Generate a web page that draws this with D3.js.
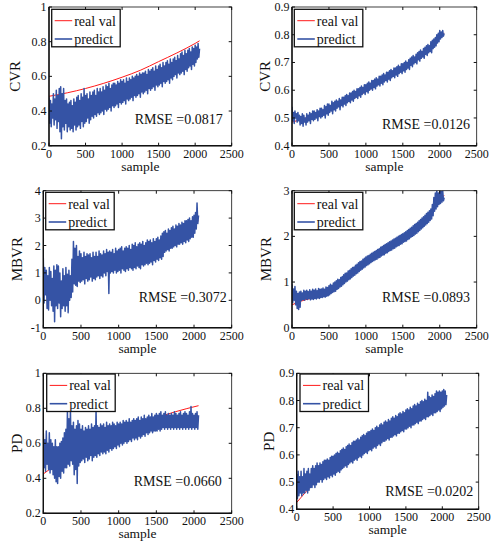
<!DOCTYPE html>
<html>
<head>
<meta charset="utf-8">
<script src="https://cdn.jsdelivr.net/npm/d3@7"></script>
<style>
  body { margin: 0; background: #fff; }
</style>
</head>
<body>
<div id="chart"></div>
<script>
var W = 493, H = 544;

// sample spacing of the predict series (one value every 10 samples)
var step = 10;

var xTicks = [0, 500, 1000, 1500, 2000, 2500];

// real values [sample, value]
var cvrReal = [[0,0.485],[250,0.505],[500,0.53],[750,0.56],[1000,0.595],[1250,0.635],[1500,0.685],[1750,0.735],[2000,0.79],[2060,0.805]];
var mbvrReal = [[0,0.5],[100,0.57],[250,0.64],[400,0.7],[500,0.78],[600,0.9],[750,1.1],[1000,1.43],[1250,1.7],[1500,1.95],[1750,2.3],[1900,2.6],[2000,2.8],[2060,2.9]];
var pdReal = [[0,0.425],[250,0.5],[500,0.56],[750,0.615],[1000,0.66],[1250,0.705],[1500,0.745],[1750,0.78],[2060,0.815]];

// predicted values (samples 0..2060)
var cvrPredLeft = [
  .48,.33,.46,.31,.44,.36,.50,.32,.47,.35,  .52,.30,.49,.34,.53,.28,.54,.24,.50,.31,
  .53,.29,.46,.33,.47,.28,.44,.31,.45,.29,  .46,.30,.43,.28,.47,.32,.45,.29,.48,.31,
  .49,.32,.46,.30,.50,.34,.48,.31,.53,.33,  .49,.34,.50,.36,.47,.33,.51,.35,.49,.37,
  .51,.36,.52,.38,.49,.37,.53,.39,.51,.38,  .53,.39,.51,.40,.54,.38,.52,.41,.55,.40,
  .54,.41,.56,.42,.53,.40,.55,.43,.56,.42,  .56,.43,.55,.44,.57,.42,.56,.45,.58,.44,
  .57,.45,.58,.46,.56,.44,.59,.47,.57,.46,  .59,.47,.58,.48,.60,.46,.59,.49,.60,.48,
  .61,.49,.60,.50,.62,.48,.61,.51,.62,.50,  .62,.51,.63,.52,.61,.50,.64,.53,.63,.52,
  .64,.53,.65,.54,.63,.52,.66,.55,.64,.54,  .66,.55,.67,.56,.65,.54,.68,.57,.66,.56,
  .68,.57,.69,.58,.67,.56,.70,.59,.68,.58,  .70,.60,.71,.61,.69,.59,.72,.62,.70,.61,
  .73,.62,.74,.63,.72,.61,.75,.64,.73,.63,  .75,.65,.76,.66,.74,.64,.77,.67,.76,.66,
  .78,.68,.77,.70,.79,.71,.76];
var cvrPredRight = [
  .54,.49,.52,.48,.525,.50,.515,.485,.52,.49,  .51,.475,.505,.48,.515,.47,.51,.485,.50,.475,
  .515,.485,.51,.49,.52,.48,.515,.495,.525,.49,  .525,.495,.52,.50,.53,.49,.525,.505,.535,.50,
  .535,.505,.53,.51,.545,.50,.54,.515,.55,.51,  .55,.52,.545,.525,.56,.515,.555,.53,.56,.525,
  .565,.535,.56,.54,.57,.53,.565,.545,.575,.54,  .575,.55,.58,.545,.585,.555,.58,.56,.59,.555,
  .59,.565,.595,.56,.60,.57,.595,.575,.605,.57,  .605,.58,.61,.575,.615,.585,.61,.59,.62,.585,
  .62,.595,.625,.59,.63,.60,.625,.605,.635,.60,  .635,.61,.64,.605,.645,.615,.64,.62,.65,.615,
  .65,.625,.655,.62,.66,.63,.655,.635,.665,.63,  .665,.64,.67,.635,.675,.645,.67,.65,.68,.645,
  .68,.655,.685,.65,.69,.66,.685,.665,.695,.66,  .695,.67,.70,.665,.705,.675,.70,.68,.71,.675,
  .715,.69,.72,.685,.725,.695,.72,.70,.73,.695,  .735,.71,.74,.705,.745,.715,.74,.72,.75,.715,
  .755,.73,.76,.725,.765,.735,.76,.74,.775,.735,  .78,.75,.785,.755,.79,.76,.80,.77,.805,.775,
  .815,.785,.81,.79,.815,.795,.805];
var mbvrPredLeft = [
  1.55,-0.1,1.2,0.2,1.1,-0.3,0.9,-0.35,1.2,0.0,  1.05,-0.2,0.8,-0.4,1.25,-0.78,1.1,-0.2,1.3,-0.3,
  1.25,-0.1,1.0,-0.6,0.7,-0.3,1.15,-0.2,0.9,-0.4,  1.2,-0.2,0.95,-0.45,1.1,0.0,0.9,0.1,1.5,0.3,
  2.15,0.6,1.9,0.55,2.0,0.5,1.6,0.7,1.8,0.65,  1.7,0.7,1.55,0.75,1.75,0.6,1.6,0.8,1.7,0.7,
  1.65,0.75,1.7,0.85,1.55,0.7,1.75,0.8,1.6,0.75,  1.75,0.85,1.6,0.9,1.8,0.8,1.7,0.9,1.65,0.85,
  1.8,1.0,1.7,0.9,1.85,1.05,1.75,0.25,1.8,1.0,  1.75,1.05,1.85,1.0,1.7,1.1,1.9,1.0,1.8,1.05,
  1.85,1.1,1.9,1.0,1.95,1.15,1.8,1.1,1.9,1.05,  1.95,1.15,1.9,1.1,2.0,1.2,1.85,1.15,2.05,1.1,
  2.0,1.2,2.1,1.15,1.95,1.25,2.05,1.2,2.1,1.15,  2.05,1.3,2.15,1.25,2.0,1.3,2.1,1.35,2.2,1.3,
  2.15,1.35,2.2,1.4,2.1,1.3,2.25,1.45,2.15,1.4,  2.25,1.5,2.3,1.45,2.2,1.55,2.35,1.5,2.45,1.6,
  2.5,1.75,2.55,1.8,2.45,1.85,2.6,1.8,2.55,1.9,  2.65,1.9,2.7,1.95,2.6,2.0,2.75,1.95,2.7,2.05,
  2.8,2.05,2.75,2.1,2.85,2.05,2.8,2.15,2.9,2.1,  2.9,2.2,2.95,2.15,3.0,2.25,2.9,2.3,3.05,2.3,
  3.1,2.45,3.2,2.6,3.55,2.8,3.1];
var mbvrPredRight = [
  0.95,0.55,0.85,0.6,0.9,0.5,0.8,0.42,0.75,0.4,  0.78,0.45,0.8,0.6,0.76,0.62,0.82,0.6,0.8,0.63,
  0.82,0.62,0.79,0.64,0.83,0.61,0.8,0.63,0.84,0.62,  0.82,0.64,0.85,0.63,0.81,0.65,0.86,0.64,0.84,0.66,
  0.85,0.66,0.87,0.68,0.84,0.67,0.89,0.69,0.88,0.7,  0.92,0.72,0.95,0.75,0.93,0.77,0.98,0.79,1.0,0.8,
  1.03,0.84,1.06,0.86,1.05,0.89,1.1,0.91,1.12,0.94,  1.16,0.97,1.19,1.0,1.2,1.02,1.24,1.05,1.26,1.07,
  1.29,1.1,1.32,1.13,1.33,1.15,1.37,1.18,1.39,1.2,  1.42,1.23,1.45,1.26,1.46,1.28,1.5,1.31,1.52,1.33,
  1.55,1.36,1.57,1.38,1.58,1.4,1.61,1.43,1.63,1.45,  1.65,1.47,1.67,1.49,1.69,1.5,1.71,1.53,1.73,1.54,
  1.76,1.57,1.78,1.59,1.8,1.6,1.82,1.63,1.84,1.64,  1.86,1.67,1.88,1.69,1.9,1.7,1.92,1.73,1.94,1.74,
  1.96,1.77,1.98,1.79,2.0,1.8,2.02,1.83,2.04,1.84,  2.06,1.87,2.08,1.89,2.1,1.9,2.13,1.93,2.15,1.95,
  2.18,1.98,2.2,2.0,2.23,2.02,2.26,2.05,2.28,2.07,  2.31,2.1,2.34,2.13,2.37,2.16,2.4,2.19,2.43,2.22,
  2.46,2.25,2.5,2.28,2.53,2.31,2.56,2.35,2.6,2.38,  2.7,2.45,2.85,2.55,2.95,2.6,3.0,2.65,2.95,2.7,
  3.0,2.72,2.98,2.75,3.0,2.78,2.85];
var pdPredLeft = [
  .66,.46,.62,.44,.67,.48,.60,.45,.66,.43,  .62,.45,.60,.42,.58,.40,.62,.38,.58,.37,
  .58,.41,.60,.40,.61,.44,.63,.43,.66,.46,  .68,.46,.78,.48,.74,.47,.79,.50,.70,.48,
  .72,.42,.68,.45,.70,.37,.73,.47,.71,.49,  .68,.50,.70,.51,.67,.49,.69,.52,.68,.50,
  .70,.51,.68,.53,.71,.50,.69,.52,.70,.53,  .79,.52,.70,.54,.69,.53,.71,.55,.70,.54,
  .71,.55,.69,.54,.72,.56,.70,.55,.71,.57,  .70,.56,.72,.57,.71,.58,.70,.57,.72,.59,
  .71,.58,.72,.60,.71,.59,.73,.60,.72,.61,  .73,.60,.72,.61,.74,.62,.72,.61,.73,.63,
  .74,.62,.73,.63,.74,.62,.75,.64,.73,.63,  .75,.64,.74,.65,.76,.64,.74,.66,.75,.65,
  .76,.66,.75,.67,.77,.66,.75,.67,.76,.67,  .77,.67,.76,.68,.77,.67,.78,.68,.76,.69,
  .77,.68,.78,.69,.76,.68,.77,.69,.76,.68,  .77,.69,.76,.68,.78,.69,.77,.68,.76,.69,
  .77,.68,.78,.69,.76,.68,.77,.69,.78,.68,  .77,.69,.76,.68,.78,.69,.81,.68,.77,.69,
  .76,.68,.77,.69,.78,.68,.76];
var pdPredRight = [
  .53,.44,.54,.45,.52,.46,.54,.45,.52,.46,  .55,.46,.53,.47,.54,.46,.55,.47,.53,.48,
  .55,.48,.56,.49,.55,.48,.56,.49,.57,.50,  .56,.50,.57,.51,.565,.50,.575,.51,.58,.515,
  .58,.51,.585,.52,.58,.515,.59,.525,.595,.52,  .595,.53,.60,.525,.605,.535,.61,.54,.605,.535,
  .615,.545,.62,.55,.625,.555,.62,.56,.63,.555,  .635,.565,.64,.57,.635,.575,.645,.57,.65,.58,
  .65,.585,.655,.58,.66,.59,.655,.595,.665,.59,  .67,.60,.675,.605,.67,.61,.68,.605,.685,.615,
  .685,.62,.69,.615,.695,.625,.69,.63,.70,.625,  .705,.635,.70,.64,.71,.635,.715,.645,.71,.65,
  .72,.65,.725,.655,.72,.66,.73,.655,.725,.665,  .735,.665,.74,.67,.735,.675,.745,.67,.74,.68,
  .75,.68,.755,.685,.75,.69,.76,.685,.755,.695,  .765,.695,.77,.70,.765,.705,.775,.70,.77,.71,
  .78,.71,.785,.715,.78,.72,.79,.715,.785,.725,  .795,.725,.80,.73,.795,.735,.805,.73,.80,.74,
  .83,.74,.815,.745,.81,.75,.82,.745,.815,.755,  .825,.755,.835,.76,.83,.765,.835,.76,.83,.77,
  .835,.775,.84,.78,.835,.785,.82];

var panels = [
  {label: "CVR",  real: cvrReal,  pred: cvrPredLeft,   yDomain: [0.2, 1], yTicks: [0.2,0.4,0.6,0.8,1],        rmse: "RMSE =0.0817",
   left: 49, right: 231.7, top: 7, bottom: 145.7, yLabX: 19.5, rmseX: 222.7, rmseY: 124, legX: 51.7, legY: 9.3},
  {label: "CVR",  real: cvrReal,  pred: cvrPredRight,  yDomain: [0.4, 0.9], yTicks: [0.4,0.5,0.6,0.7,0.8,0.9], rmse: "RMSE =0.0126",
   left: 292, right: 476.7, top: 7, bottom: 145.7, yLabX: 270, rmseX: 470, rmseY: 129, legX: 294.3, legY: 9.3},
  {label: "MBVR", real: mbvrReal, pred: mbvrPredLeft,  yDomain: [-1, 4], yTicks: [-1,0,1,2,3,4],             rmse: "RMSE =0.3072",
   left: 43.3, right: 231.7, top: 190.7, bottom: 327.7, yLabX: 21.7, rmseX: 226.7, rmseY: 301.7, legX: 45.7, legY: 192.3},
  {label: "MBVR", real: mbvrReal, pred: mbvrPredRight, yDomain: [0, 3], yTicks: [0,1,2,3],                   rmse: "RMSE =0.0893",
   left: 292, right: 476.7, top: 190.7, bottom: 327.7, yLabX: 270.7, rmseX: 470, rmseY: 301.7, legX: 294.3, legY: 192.3},
  {label: "PD",   real: pdReal,   pred: pdPredLeft,    yDomain: [0.2, 1], yTicks: [0.2,0.4,0.6,0.8,1],        rmse: "RMSE =0.0660",
   left: 43.3, right: 231.7, top: 373.3, bottom: 513.3, yLabX: 21.7, rmseX: 221.7, rmseY: 486, legX: 46.7, legY: 374},
  {label: "PD",   real: pdReal,   pred: pdPredRight,   yDomain: [0.4, 0.9], yTicks: [0.4,0.5,0.6,0.7,0.8,0.9], rmse: "RMSE =0.0202",
   left: 296.7, right: 478.7, top: 373.3, bottom: 509.3, yLabX: 274, rmseX: 473.3, rmseY: 496, legX: 300, legY: 374}
];

var red = "#ff1a1a", blue = "#3553a5";
var serif = "'Liberation Serif', 'Times New Roman', Times, serif";

var svg = d3.select("#chart").append("svg").attr("width", W).attr("height", H)
  .attr("font-family", serif);

panels.forEach(function(p, k) {
  var x = d3.scaleLinear().domain([0, 2500]).range([p.left, p.right]);
  var y = d3.scaleLinear().domain(p.yDomain).range([p.bottom, p.top]);
  var g = svg.append("g");

  g.append("clipPath").attr("id", "clip" + k)
    .append("rect").attr("x", p.left).attr("y", p.top)
    .attr("width", p.right - p.left).attr("height", p.bottom - p.top);

  var plot = g.append("g").attr("clip-path", "url(#clip" + k + ")");

  plot.append("path").datum(p.real)
    .attr("fill", "none").attr("stroke", red).attr("stroke-width", 1)
    .attr("d", d3.line().x(function(d) { return x(d[0]); }).y(function(d) { return y(d[1]); }).curve(d3.curveMonotoneX));

  plot.append("path").datum(p.pred)
    .attr("fill", "none").attr("stroke", blue).attr("stroke-width", 1.5)
    .attr("stroke-linejoin", "round")
    .attr("d", d3.line().x(function(d, i) { return x(i * step); }).y(function(d) { return y(d); }));

  // box
  g.append("rect").attr("x", p.left).attr("y", p.top)
    .attr("width", p.right - p.left).attr("height", p.bottom - p.top)
    .attr("fill", "none").attr("stroke", "#111").attr("stroke-width", 0.8);
  g.append("path").attr("d", "M" + p.left + "," + p.top + "V" + p.bottom + "H" + p.right)
    .attr("fill", "none").attr("stroke", "#111").attr("stroke-width", 1.4);

  // ticks, inward on all sides
  xTicks.forEach(function(v) {
    g.append("line").attr("x1", x(v)).attr("x2", x(v)).attr("y1", p.bottom).attr("y2", p.bottom - 3).attr("stroke", "#111");
    g.append("line").attr("x1", x(v)).attr("x2", x(v)).attr("y1", p.top).attr("y2", p.top + 3).attr("stroke", "#111");
    g.append("text").attr("x", x(v)).attr("y", p.bottom + 12)
      .attr("text-anchor", "middle").attr("font-size", 12).attr("fill", "#111").text(v);
  });
  p.yTicks.forEach(function(v) {
    g.append("line").attr("x1", p.left).attr("x2", p.left + 3).attr("y1", y(v)).attr("y2", y(v)).attr("stroke", "#111");
    g.append("line").attr("x1", p.right).attr("x2", p.right - 3).attr("y1", y(v)).attr("y2", y(v)).attr("stroke", "#111");
    g.append("text").attr("x", p.left - 2.5).attr("y", y(v) + 4)
      .attr("text-anchor", "end").attr("font-size", 12).attr("fill", "#111").text(v);
  });

  // axis labels
  g.append("text").attr("x", (p.left + p.right) / 2).attr("y", p.bottom + 25)
    .attr("text-anchor", "middle").attr("font-size", 13.5).attr("fill", "#111").text("sample");
  g.append("text").attr("transform", "translate(" + p.yLabX + "," + (p.top + p.bottom) / 2 + ") rotate(-90)")
    .attr("text-anchor", "middle").attr("font-size", 15).attr("fill", "#111").text(p.label);

  // RMSE
  g.append("text").attr("x", p.rmseX).attr("y", p.rmseY)
    .attr("text-anchor", "end").attr("font-size", 14).attr("fill", "#111").text(p.rmse);

  // legend
  var lg = g.append("g").attr("transform", "translate(" + p.legX + "," + p.legY + ")");
  lg.append("rect").attr("width", 68.5).attr("height", 37.5)
    .attr("fill", "#fff").attr("stroke", "#111").attr("stroke-width", 1.3);
  [["real val", red, 1, 11.4], ["predict", blue, 1.6, 29.7]].forEach(function(e) {
    lg.append("line").attr("x1", 3).attr("x2", 20.5).attr("y1", e[3]).attr("y2", e[3])
      .attr("stroke", e[1]).attr("stroke-width", e[2]);
    lg.append("text").attr("x", 22.5).attr("y", e[3] + 5).attr("font-size", 14).attr("fill", "#111").text(e[0]);
  });
});
</script>
</body>
</html>
